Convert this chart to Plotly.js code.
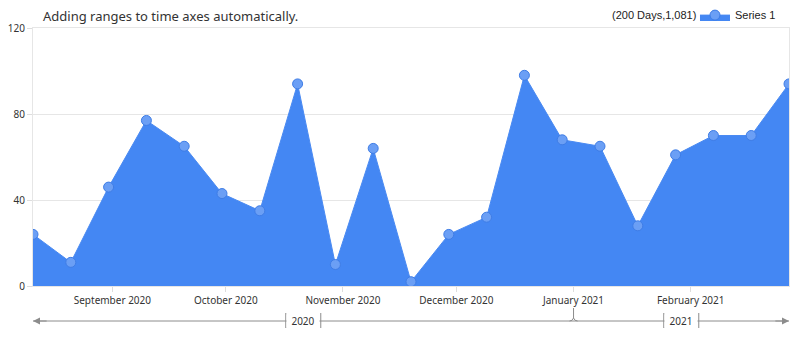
<!DOCTYPE html>
<html>
<head>
<meta charset="utf-8">
<script src="https://cdn.plot.ly/plotly-3.0.1.min.js"></script>
<style>html,body{margin:0;padding:0;background:#fff;}#chart{width:800px;height:337px;}</style>
</head>
<body>
<div id="chart"></div>
<script>
// ---- data ----
const startDate = '2020-08-11';
const stepDays = 10;
const values = [24, 11, 46, 77, 65, 43, 35, 94, 10, 64, 2, 24, 32, 98, 68, 65, 28, 61, 70, 70, 94];
const seriesName = 'Series 1';
const chartTitle = 'Adding ranges to time axes automatically.';
const yTicks = [0, 40, 80, 120];
const yearLabels = ['2020', '2021'];

// ---- derived ----
function addDays(s, n) {
  const d = new Date(s + 'T00:00:00Z');
  d.setUTCDate(d.getUTCDate() + n);
  return d.toISOString().slice(0, 10);
}
function dayNum(s) { return Date.parse(s + 'T00:00:00Z') / 86400000; }
function fromNum(n) { return new Date(n * 86400000).toISOString().slice(0, 10) + (n % 1 ? ' 12:00' : ''); }
const dates = values.map((v, i) => addDays(startDate, i * stepDays));
const first = dates[0], last = dates[dates.length - 1];
const spanDays = dayNum(last) - dayNum(first);
const total = values.reduce((a, b) => a + b, 0);

const lineY = -0.1357;
const shapes = [];
const annotations = [];
const grey = '#8c8c8c';
const uiFont = 'Noto Sans, sans-serif';

// main range line
shapes.push({type: 'line', xref: 'x', yref: 'paper', x0: first, x1: last, y0: lineY, y1: lineY,
  line: {color: grey, width: 1}});

// year segments
yearLabels.forEach(y => {
  const ys = `${y}-01-01`, ye = `${+y + 1}-01-01`;
  const a = Math.max(dayNum(first), dayNum(ys));
  const b = Math.min(dayNum(last), dayNum(ye));
  const mid = fromNum((a + b) / 2);
  annotations.push({xref: 'x', yref: 'paper', x: mid, y: lineY, xanchor: 'center', yanchor: 'middle',
    text: y, showarrow: false, borderpad: 0,
    bgcolor: '#fff', width: 32, height: 12, font: {family: uiFont, size: 10, color: '#333'}});
  [-17.5, 17.5].forEach(o => shapes.push({type: 'line', xref: 'x', yref: 'paper', xsizemode: 'pixel', ysizemode: 'pixel',
    xanchor: mid, yanchor: lineY, x0: o, x1: o, y0: -7, y1: 8, line: {color: grey, width: 1}}));
});

// year boundary notch
const boundary = '2021-01-01';
shapes.push({type: 'path', xref: 'x', yref: 'paper', xsizemode: 'pixel', ysizemode: 'pixel',
  xanchor: boundary, yanchor: lineY,
  path: 'M -4 0 Q -1 0 0 3 L 0 13 M 0 3 Q 1 0 4 0', line: {color: grey, width: 1}});

// arrowheads
annotations.push({xref: 'x', yref: 'paper', x: first, y: lineY, axref: 'x', ayref: 'pixel', ax: addDays(first, 4), ay: 0,
  text: '', showarrow: true, arrowhead: 2, arrowsize: 1.4, arrowwidth: 1, arrowcolor: grey});
annotations.push({xref: 'x', yref: 'paper', x: last, y: lineY, axref: 'x', ayref: 'pixel', ax: addDays(last, -4), ay: 0,
  text: '', showarrow: true, arrowhead: 2, arrowsize: 1.4, arrowwidth: 1, arrowcolor: grey});

// legend summary
annotations.push({xref: 'paper', yref: 'paper', x: 0.88, y: 1.05, xanchor: 'right', yanchor: 'middle',
  text: `(${spanDays} Days,${total.toLocaleString('en-US')})`, showarrow: false,
  font: {family: 'Liberation Sans, Arial, sans-serif', size: 11, color: '#222'}});

const trace = {
  type: 'scatter', mode: 'lines+markers', x: dates, y: values, name: seriesName,
  fill: 'tozeroy', fillcolor: '#4487f3',
  line: {color: '#4a8af2', width: 1},
  marker: {size: 10, color: '#6b9ff5', line: {color: '#3f7de6', width: 1}},
  hoverinfo: 'x+y'
};

const layout = {
  width: 800, height: 337,
  margin: {l: 33, r: 11, t: 28, b: 51, autoexpand: false},
  paper_bgcolor: '#fff', plot_bgcolor: '#fff',
  font: {family: uiFont, size: 10, color: '#333'},
  title: {text: chartTitle, x: 43 / 800, xanchor: 'left', xref: 'container', y: 1 - 16 / 337, yanchor: 'middle',
    font: {family: uiFont, size: 13, color: '#333'}},
  showlegend: true,
  legend: {x: 0.9894, xanchor: 'right', y: 1.05, yanchor: 'middle', orientation: 'h',
    font: {family: 'Liberation Sans, Arial, sans-serif', size: 11, color: '#222'}, bgcolor: 'rgba(0,0,0,0)'},
  xaxis: {
    type: 'date', range: [first, last],
    tick0: '2020-09-01', dtick: 'M1', tickformat: '%B %Y',
    ticks: 'outside', ticklen: 5, tickcolor: '#ddd',
    showgrid: false, showline: true, linecolor: '#e6e6e6', mirror: true, zeroline: false,
    tickfont: {family: uiFont, size: 10, color: '#333'}
  },
  yaxis: {
    range: [0, 120], tickvals: yTicks, ticks: 'outside', ticklen: 5, tickcolor: '#ddd',
    showgrid: true, gridcolor: '#e6e6e6', showline: true, linecolor: '#e6e6e6', mirror: true, zeroline: false,
    tickfont: {family: uiFont, size: 10, color: '#333'}
  },
  shapes: shapes,
  annotations: annotations
};

Plotly.newPlot('chart', [trace], layout, {displayModeBar: false, staticPlot: true});
</script>
</body>
</html>
